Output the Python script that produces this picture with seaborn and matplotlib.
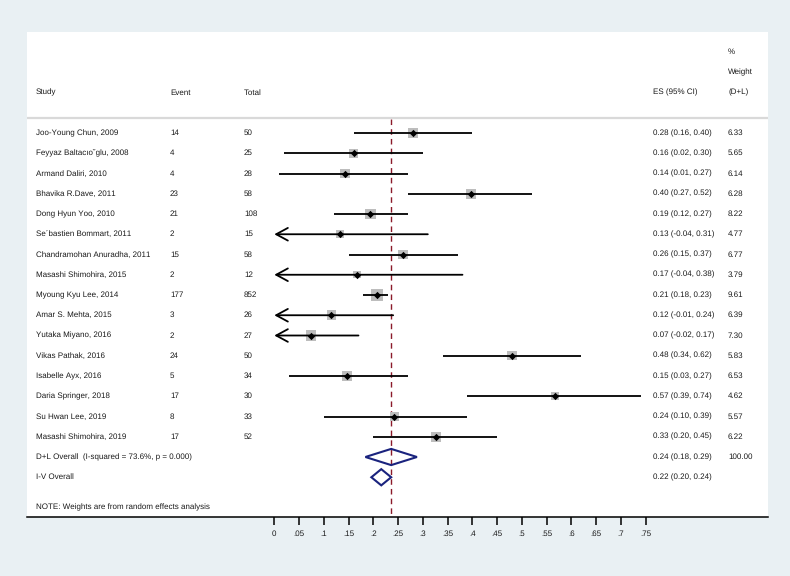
import numpy as np
import pandas as pd
import matplotlib
matplotlib.use('Agg')
import matplotlib.pyplot as plt
from matplotlib.patches import Polygon
import seaborn as sns

# данные исследований (читаются с рисунка)
studies = ['Joo-Young Chun, 2009', 'Feyyaz Baltacıo˘glu, 2008', 'Armand Daliri, 2010',
           'Bhavika R.Dave, 2011', 'Dong Hyun Yoo, 2010', 'Se´bastien Bommart, 2011',
           'Chandramohan Anuradha, 2011', 'Masashi Shimohira, 2015', 'Myoung Kyu Lee, 2014',
           'Amar S. Mehta, 2015', 'Yutaka Miyano, 2016', 'Vikas Pathak, 2016',
           'Isabelle Ayx, 2016', 'Daria Springer, 2018', 'Su Hwan Lee, 2019',
           'Masashi Shimohira, 2019']
events = [14, 4, 4, 23, 21, 2, 15, 2, 177, 3, 2, 24, 5, 17, 8, 17]
totals = [50, 25, 28, 58, 108, 15, 58, 12, 852, 26, 27, 50, 34, 30, 33, 52]
es = [0.28, 0.16, 0.143, 0.397, 0.194, 0.133, 0.259, 0.167, 0.208,
      0.1154, 0.074, 0.48, 0.147, 0.567, 0.242, 0.327]
ci_low = [0.16, 0.02, 0.01, 0.27, 0.12, -0.04, 0.15, -0.04, 0.18,
          -0.01, -0.02, 0.34, 0.03, 0.39, 0.10, 0.20]
ci_high = [0.40, 0.30, 0.27, 0.52, 0.27, 0.31, 0.37, 0.38, 0.23,
           0.24, 0.17, 0.62, 0.27, 0.74, 0.39, 0.45]
weights = [6.33, 5.65, 6.14, 6.28, 8.22, 4.77, 6.77, 3.79, 9.61,
           6.39, 7.30, 5.83, 6.53, 4.62, 5.57, 6.22]

# итоговые оценки: D+L и I-V
overall_labels = ['D+L Overall  (I-squared = 73.6%, p = 0.000)', 'I-V Overall']
overall_es = [0.236, 0.216]
overall_low = [0.184, 0.196]
overall_high = [0.288, 0.236]
overall_weight = ['100.00', '']

xticks = [0, .05, .1, .15, .2, .25, .3, .35, .4, .45, .5, .55, .6, .65, .7, .75]
xtick_labels = ['0', '.05', '.1', '.15', '.2', '.25', '.3', '.35', '.4', '.45',
                '.5', '.55', '.6', '.65', '.7', '.75']

sns.set_theme(style='white')
plt.rcParams['font.family'] = ['Liberation Sans', 'DejaVu Sans']
plt.rcParams['text.hinting'] = 'no_hinting'
plt.rcParams['text.hinting_factor'] = 1

df = pd.DataFrame({'study': studies, 'es': es, 'low': ci_low, 'high': ci_high,
                   'weight': weights})
df['row'] = np.arange(1, len(df) + 1)

W, H = 790, 576
fig = plt.figure(figsize=(W / 100, H / 100), dpi=100, facecolor='#e9f0f3')
ax = fig.add_axes([27 / W, 1 - 517 / H, 741 / W, 485 / H])
ax.set_facecolor('white')

px_per_unit = 495.2
ax.set_xlim((27 - 274.3) / px_per_unit, (768 - 274.3) / px_per_unit)
ax.set_ylim(1 + (517 - 133) / 20.25, 1 + (32 - 133) / 20.25)

fs = 6.0
txt = dict(fontsize=fs, color='#1a1a1a', va='center', ha='left')
x_study, x_event, x_total = -0.4812, -0.2106, -0.0612
x_es, x_w = 0.7647, 0.9162

# заголовок
ax.text(x_study, -1, 'Study', **txt)
ax.text(x_event, -1, 'Event', **txt)
ax.text(x_total, -1, 'Total', **txt)
ax.text(x_es, -1, 'ES (95% CI)', **txt)
ax.text(x_w, -3, '%', **txt)
ax.text(x_w, -2, 'Weight', **txt)
ax.text(x_w, -1, '(D+L)', **txt)
ax.axhline(0.26, color='#d9d9d9', lw=1.6)

# вертикальная линия общей оценки
ax.vlines(overall_es[0], 0.3, 20, color='#8b1a2a', lw=1.0, linestyles=(0, (4, 3)), zorder=1)

# доверительные интервалы
for _, r in df.iterrows():
    if r['low'] < 0:
        ax.annotate('', xy=(0, r['row']), xytext=(r['high'], r['row']),
                    arrowprops=dict(arrowstyle='->,head_length=0.7,head_width=0.38',
                                    color='black', lw=1.3, shrinkA=0, shrinkB=0),
                    zorder=3)
    else:
        ax.hlines(r['row'], r['low'], r['high'], color='black', lw=1.3, zorder=3)

# квадраты (вес) и точки
k = 7.6
sns.scatterplot(data=df, x='es', y='row', size='weight',
                sizes=(k * min(weights), k * max(weights)), marker='s',
                color='#bdbdbd', linewidth=0, legend=False, ax=ax, zorder=2)
sns.scatterplot(data=df, x='es', y='row', marker='D', s=14, color='black',
                linewidth=0, legend=False, ax=ax, zorder=4)

for _, r in df.iterrows():
    i = r['row']
    ax.text(x_study, i, r['study'], **txt)
    ax.text(x_event, i, str(events[i - 1]), **txt)
    ax.text(x_total, i, str(totals[i - 1]), **txt)
    ax.text(x_es, i, f"{r['es']:.2f} ({r['low']:.2f}, {r['high']:.2f})", **txt)
    ax.text(x_w, i, f"{r['weight']:.2f}", **txt)

# ромбы итоговых оценок
for j in range(2):
    y = len(df) + 1 + j
    h = 0.4
    ax.add_patch(Polygon([(overall_low[j], y), (overall_es[j], y - h),
                          (overall_high[j], y), (overall_es[j], y + h)],
                         closed=True, fill=False, edgecolor='#1a237e', lw=1.5, zorder=4))
    ax.text(x_study, y, overall_labels[j], **txt)
    ax.text(x_es, y, f"{overall_es[j]:.2f} ({overall_low[j]:.2f}, {overall_high[j]:.2f})", **txt)
    ax.text(x_w, y, overall_weight[j], **txt)

ax.text(x_study, 19.5, 'NOTE: Weights are from random effects analysis', **txt)

# оси
for s in ['top', 'left', 'right']:
    ax.spines[s].set_visible(False)
ax.spines['bottom'].set_color('black')
ax.spines['bottom'].set_linewidth(1.1)
ax.set_xticks(xticks)
ax.set_xticklabels(xtick_labels)
ax.set_yticks([])
ax.set_xlabel('')
ax.set_ylabel('')
ax.tick_params(axis='x', direction='out', length=5.8, width=1.1, color='black',
               labelsize=fs, labelcolor='#1a1a1a', pad=4, bottom=True)

fig.savefig('out.png', dpi=100, facecolor=fig.get_facecolor())
